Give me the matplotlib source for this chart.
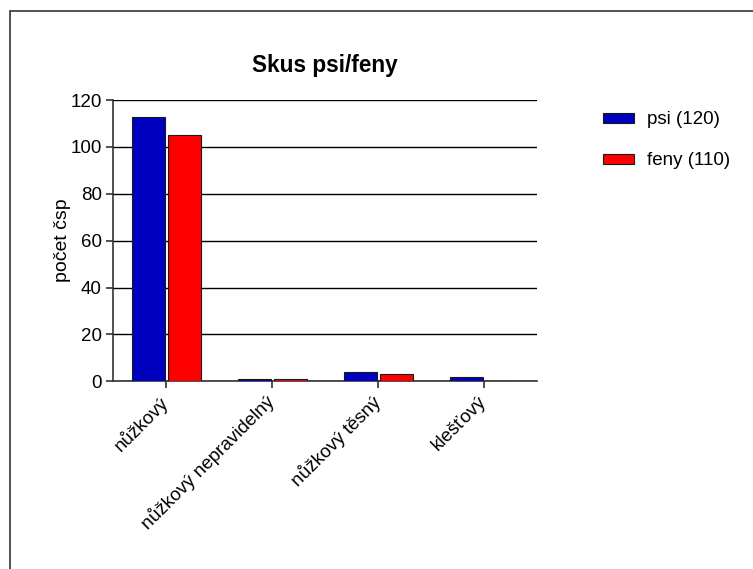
import matplotlib.pyplot as plt
import numpy as np
from matplotlib.patches import Rectangle

plt.rcParams['font.family'] = ['Liberation Sans', 'DejaVu Sans']

categories = ['nůžkový', 'nůžkový nepravidelný', 'nůžkový těsný', 'klešťový']
psi = [113, 1, 4, 2]
feny = [105, 1, 3, 0]
series_labels = ['psi (120)', 'feny (110)']
yticks = [0, 20, 40, 60, 80, 100, 120]

fig = plt.figure(figsize=(7.53, 5.69), dpi=100)
ax = fig.add_axes([0.150, 0.330, 0.563, 0.494])

# outer frame like the exported graph page
fig.patches.append(Rectangle((10 / 753, -0.1), 1.2, 1 - 11 / 569 + 0.1,
                             transform=fig.transFigure, fill=False,
                             edgecolor='#333333', linewidth=1.2))

x = np.arange(len(categories))
w = 0.31
b1 = ax.bar(x - 0.165, psi, w, color='#0000C0', edgecolor='#1a1a1a', linewidth=0.8,
            label=series_labels[0], zorder=3)
b2 = ax.bar(x + 0.175, feny, w, color='#FF0000', edgecolor='#1a1a1a', linewidth=0.8,
            label=series_labels[1], zorder=3)

ax.set_xlim(-0.5, 3.5)
ax.set_ylim(0, 120)
ax.set_yticks(yticks)
ax.yaxis.grid(True, color='black', linewidth=1.0, zorder=0)
ax.set_axisbelow(True)
for s in ['top', 'right']:
    ax.spines[s].set_visible(False)
ax.spines['left'].set_linewidth(1.2)
ax.spines['bottom'].set_linewidth(1.2)
ax.spines['left'].set_color('#333333')
ax.spines['bottom'].set_color('#333333')
ax.tick_params(axis='both', labelsize=13.5, width=1.2, length=5, pad=3, color='#333333')
ax.set_xticks(x)
ax.set_xticklabels(categories, rotation=45, ha='right', va='center',
                   rotation_mode='anchor')
ax.tick_params(axis='x', pad=8)
ax.set_ylabel('počet čsp', fontsize=14, labelpad=-0.5)
ax.set_title('Skus psi/feny', fontsize=16.3, fontweight='bold', pad=20)

ax.legend(handles=[b1, b2], labels=series_labels, frameon=False, fontsize=13.5,
          loc='upper left', bbox_to_anchor=(0.778, 0.834),
          bbox_transform=fig.transFigure, handlelength=1.65, handleheight=0.45,
          labelspacing=1.28, handletextpad=0.7)

fig.savefig('out.png', dpi=100)
